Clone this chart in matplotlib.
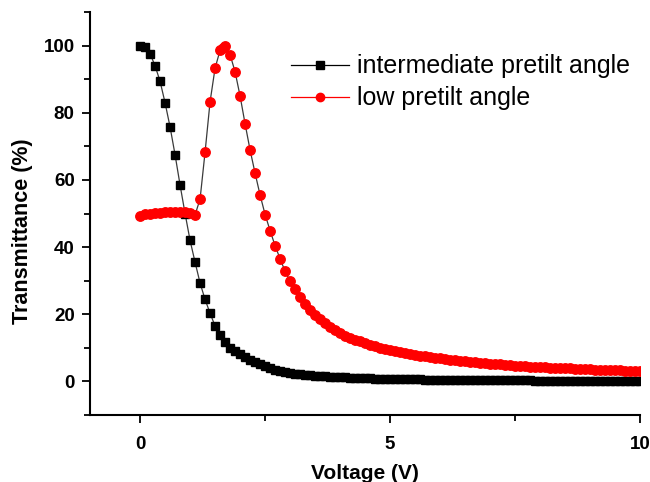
import matplotlib
matplotlib.use('Agg')
import matplotlib.pyplot as plt
from matplotlib.lines import Line2D
from matplotlib.ticker import MultipleLocator

plt.rcParams['font.family'] = ['Liberation Sans', 'DejaVu Sans']

# intermediate pretilt angle: voltage (V) and transmittance (%)
volt_mid = [0.0, 0.1, 0.2, 0.3, 0.4, 0.5, 0.6, 0.7, 0.8, 0.9,
            1.0, 1.1, 1.2, 1.3, 1.4, 1.5, 1.6, 1.7, 1.8, 1.9,
            2.0, 2.1, 2.2, 2.3, 2.4, 2.5, 2.6, 2.7, 2.8, 2.9,
            3.0, 3.1, 3.2, 3.3, 3.4, 3.5, 3.6, 3.7, 3.8, 3.9,
            4.0, 4.1, 4.2, 4.3, 4.4, 4.5, 4.6, 4.7, 4.8, 4.9,
            5.0, 5.1, 5.2, 5.3, 5.4, 5.5, 5.6, 5.7, 5.8, 5.9,
            6.0, 6.1, 6.2, 6.3, 6.4, 6.5, 6.6, 6.7, 6.8, 6.9,
            7.0, 7.1, 7.2, 7.3, 7.4, 7.5, 7.6, 7.7, 7.8, 7.9,
            8.0, 8.1, 8.2, 8.3, 8.4, 8.5, 8.6, 8.7, 8.8, 8.9,
            9.0, 9.1, 9.2, 9.3, 9.4, 9.5, 9.6, 9.7, 9.8, 9.9, 10.0]
trans_mid = [100, 99.5, 97.6, 94, 89.4, 83, 75.8, 67.5, 58.5, 50,
             42, 35.5, 29.3, 24.4, 20.3, 16.5, 13.7, 11.6, 10.0, 9.0,
             8.2, 7.3, 6.5, 5.8, 5.1, 4.5, 4.0, 3.5, 3.1, 2.8,
             2.5, 2.3, 2.1, 1.95, 1.8, 1.7, 1.6, 1.5, 1.42, 1.35,
             1.28, 1.2, 1.14, 1.08, 1.02, 0.97, 0.92, 0.87, 0.83, 0.79,
             0.75, 0.72, 0.69, 0.66, 0.63, 0.6, 0.58, 0.56, 0.54, 0.52,
             0.5, 0.48, 0.46, 0.45, 0.43, 0.42, 0.4, 0.39, 0.38, 0.37,
             0.36, 0.35, 0.34, 0.33, 0.32, 0.31, 0.3, 0.29, 0.28, 0.27,
             0.27, 0.26, 0.25, 0.25, 0.24, 0.23, 0.23, 0.22, 0.22, 0.21,
             0.21, 0.2, 0.2, 0.19, 0.19, 0.18, 0.18, 0.18, 0.17, 0.17, 0.17]

# low pretilt angle
volt_low = [0.0, 0.1, 0.2, 0.3, 0.4, 0.5, 0.6, 0.7, 0.8, 0.9,
            1.0, 1.1, 1.2, 1.3, 1.4, 1.5, 1.6, 1.65, 1.7, 1.8, 1.9,
            2.0, 2.1, 2.2, 2.3, 2.4, 2.5, 2.6, 2.7, 2.8, 2.9,
            3.0, 3.1, 3.2, 3.3, 3.4, 3.5, 3.6, 3.7, 3.8, 3.9,
            4.0, 4.1, 4.2, 4.3, 4.4, 4.5, 4.6, 4.7, 4.8, 4.9,
            5.0, 5.1, 5.2, 5.3, 5.4, 5.5, 5.6, 5.7, 5.8, 5.9,
            6.0, 6.1, 6.2, 6.3, 6.4, 6.5, 6.6, 6.7, 6.8, 6.9,
            7.0, 7.1, 7.2, 7.3, 7.4, 7.5, 7.6, 7.7, 7.8, 7.9,
            8.0, 8.1, 8.2, 8.3, 8.4, 8.5, 8.6, 8.7, 8.8, 8.9,
            9.0, 9.1, 9.2, 9.3, 9.4, 9.5, 9.6, 9.7, 9.8, 9.9, 10.0]
trans_low = [49.3, 49.8, 50.0, 50.2, 50.3, 50.4, 50.4, 50.5, 50.5, 50.4,
             50.2, 49.6, 54.3, 68.3, 83.3, 93.3, 98.6, 99.3, 100, 97.3, 92.2,
             85, 76.7, 68.9, 62, 55.5, 49.7, 44.9, 40.4, 36.5, 32.8,
             29.9, 27.4, 25.2, 23.0, 21.3, 19.8, 18.5, 17.3, 16.2, 15.3,
             14.3, 13.6, 13.0, 12.4, 11.9, 11.4, 10.9, 10.5, 10.1, 9.7,
             9.4, 9.1, 8.8, 8.5, 8.2, 8.0, 7.7, 7.5, 7.3, 7.1,
             6.9, 6.7, 6.5, 6.3, 6.2, 6.0, 5.8, 5.7, 5.6, 5.4,
             5.3, 5.2, 5.1, 5.0, 4.8, 4.7, 4.6, 4.5, 4.4, 4.35,
             4.3, 4.2, 4.1, 4.05, 4.0, 3.9, 3.85, 3.8, 3.7, 3.65,
             3.6, 3.55, 3.5, 3.45, 3.4, 3.35, 3.3, 3.25, 3.2, 3.15, 3.1]

labels = ['intermediate pretilt angle', 'low pretilt angle']

fig = plt.figure(figsize=(6.5, 4.82), dpi=100)
ax = fig.add_axes([0.1385, 0.139, 0.8465, 0.836])

# thin grey connecting lines, then the markers
ax.plot(volt_mid, trans_mid, color='#3a3a3a', lw=0.9, zorder=2)
ax.plot(volt_low, trans_low, color='#3a3a3a', lw=0.9, zorder=2)
ax.plot(volt_mid, trans_mid, 's', color='black', ms=6.4, mec='black', zorder=3)
ax.plot(volt_low, trans_low, 'o', color='red', ms=6.8, mec='red', zorder=3)

ax.set_xlim(-1, 10)
ax.set_ylim(-10, 110)
ax.xaxis.set_major_locator(MultipleLocator(5))
ax.xaxis.set_minor_locator(MultipleLocator(2.5))
ax.yaxis.set_minor_locator(MultipleLocator(10))
ax.set_yticks([0, 20, 40, 60, 80, 100])

for side in ['top', 'right']:
    ax.spines[side].set_visible(False)
for side in ['left', 'bottom']:
    ax.spines[side].set_linewidth(1.5)

ax.tick_params(which='major', direction='out', length=6, width=1.3, labelsize=13.5, pad=5)
ax.tick_params(which='minor', direction='out', length=4, width=1.3)
ax.tick_params(axis='x', pad=9)
for t in ax.get_xticklabels() + ax.get_yticklabels():
    t.set_fontweight('bold')

ax.set_xlabel('Voltage (V)', fontsize=15, fontweight='bold', labelpad=8)
ax.set_ylabel('Transmittance (%)', fontsize=15.5, fontweight='bold')
ax.yaxis.set_label_coords(-0.104, 0.457)

handles = [
    Line2D([], [], color='black', lw=0.9, marker='s', ms=6),
    Line2D([], [], color='red', lw=0.9, marker='o', ms=6),
]
ax.legend(handles, labels, loc='upper right', bbox_to_anchor=(1.0, 0.92),
          frameon=False, fontsize=18, handlelength=2.3, handletextpad=0.35,
          labelspacing=0.32, borderaxespad=0)

fig.savefig('out.png', dpi=100)
